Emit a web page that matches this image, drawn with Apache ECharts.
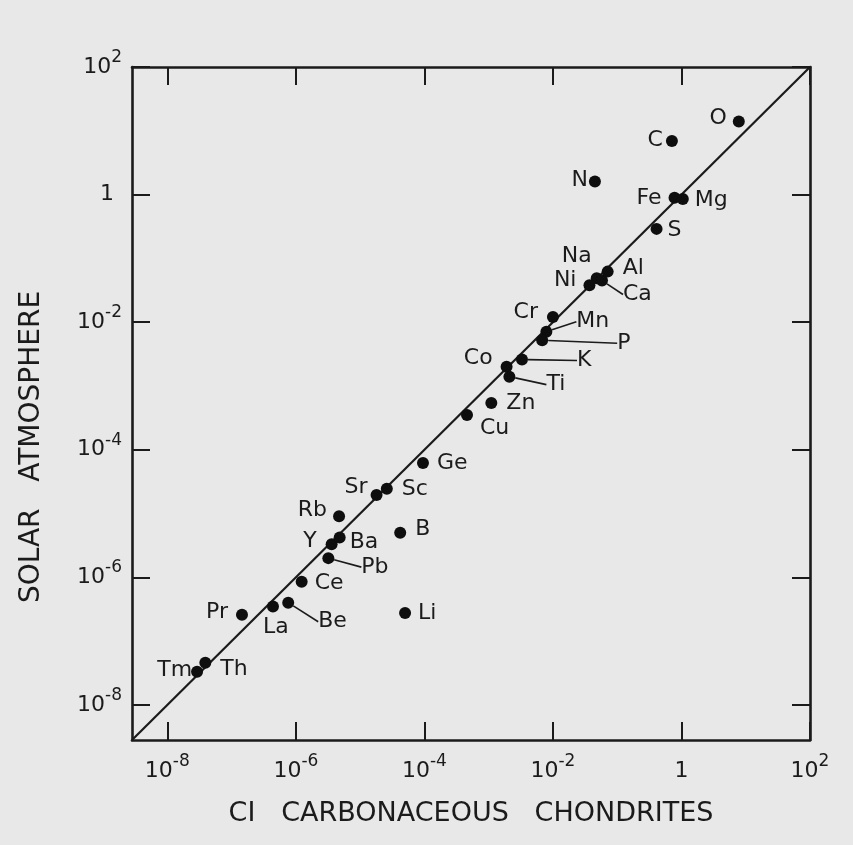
<!DOCTYPE html>
<html>
<head>
<meta charset="utf-8">
<script src="https://cdn.jsdelivr.net/npm/echarts@6/dist/echarts.min.js"></script>
<style>
html,body{margin:0;padding:0;background:#e8e8e8;}
#c{width:853px;height:845px;}
</style>
</head>
<body>
<div id="c"></div>
<script>
// ---- data (abundances relative to Si) ----
const elements = ['O','C','N','Fe','Mg','S','Na','Ni','Ca','Al','Cr','Mn','P','K','Co','Ti','Zn','Cu','Ge','Sr','Sc','Rb','B','Y','Ba','Pb','Ce','Li','Be','La','Pr','Tm','Th'];
const ciValues = [7.8, 0.71, 0.045, 0.78, 1.05, 0.41, 0.048, 0.037, 0.058, 0.071, 0.010, 0.0079, 0.0068, 0.0033, 0.0019, 0.0021, 0.0011, 4.6e-4, 9.5e-5, 1.8e-5, 2.6e-5, 4.7e-6, 4.2e-5, 3.6e-6, 4.8e-6, 3.2e-6, 1.23e-6, 5.0e-5, 7.6e-7, 4.4e-7, 1.45e-7, 2.9e-8, 3.9e-8];
const solarValues = [14, 6.9, 1.6, 0.89, 0.85, 0.29, 0.049, 0.038, 0.045, 0.062, 0.012, 0.0071, 0.0052, 0.0026, 0.0020, 0.0014, 5.4e-4, 3.5e-4, 6.2e-5, 1.95e-5, 2.45e-5, 9.1e-6, 5.0e-6, 3.3e-6, 4.2e-6, 2.0e-6, 8.5e-7, 2.75e-7, 4.0e-7, 3.5e-7, 2.6e-7, 3.3e-8, 4.6e-8];
const tickValues = [1e-8, 1e-6, 1e-4, 1e-2, 1, 100];
const axisMin = Math.pow(10, -8.55);
const axisMax = 100;
const xTitle = 'CI   CARBONACEOUS   CHONDRITES';
const yTitle = 'SOLAR   ATMOSPHERE';

// ---- label placement (styling): [dx, dy, align, leader] relative to dot centre ----
const labelPlacement = {
  O:[-12,-3,'right'], C:[-9,-1,'right'], N:[-7,-1,'right'], Fe:[-13,0,'right'], Mg:[12,1,'left'],
  S:[11,1,'left'], Na:[-5,-22,'right'], Ni:[-13,-5,'right'], Ca:[21,14,'left',true], Al:[15,-3,'left'],
  Cr:[-15,-5,'right'], Mn:[30,-10,'left',true], P:[75,3,'left',true], K:[55,1,'left',true],
  Co:[-14,-8,'right'], Ti:[37,8,'left',true], Zn:[15,0,'left'], Cu:[13,13,'left'], Ge:[14,0,'left'],
  Sr:[-9,-8,'right'], Sc:[15,1,'left'], Rb:[-12,-6,'right'], B:[15,-3,'left'], Y:[-15,-3,'right'],
  Ba:[10,5,'left'], Pb:[33,9,'left',true], Ce:[13,1,'left'], Li:[13,0,'left'], Be:[30,19,'left',true],
  La:[-10,21,'left'], Pr:[-14,-2,'right'], Tm:[-5,-2,'right'], Th:[15,7,'left']
};

const ink = '#1b1b1b';
const font = 'DejaVu Sans';

const points = elements.map((name, i) => {
  const item = { name: name, value: [ciValues[i], solarValues[i]] };
  if (labelPlacement[name] && labelPlacement[name][3]) {
    item.labelLine = { show: true, lineStyle: { color: ink, width: 1.6, opacity: 1 } };
  }
  return item;
});

function expLabel(v) {
  const e = Math.round(Math.log10(v));
  return e === 0 ? '{one|1}' : '{b|10}{s|' + e + '}';
}
const richX = {
  b: { fontFamily: font, fontSize: 22, color: ink, lineHeight: 36 },
  s: { fontFamily: font, fontSize: 17, color: ink, lineHeight: 17, verticalAlign: 'top' },
  one: { fontFamily: font, fontSize: 22, color: ink, lineHeight: 36 }
};
const richY = {
  b: richX.b, s: richX.s,
  one: { fontFamily: font, fontSize: 22, color: ink, lineHeight: 36, padding: [0, 8, 0, 0] }
};

const axisCommon = {
  type: 'log', logBase: 10, min: axisMin, max: axisMax,
  axisLine: { show: true, onZero: false, lineStyle: { color: ink, width: 2.6 } },
  axisTick: { show: true, inside: true, length: 18, customValues: tickValues, lineStyle: { color: ink, width: 2 } },
  splitLine: { show: false },
  minorTick: { show: false }
};

const chart = echarts.init(document.getElementById('c'), null, { renderer: 'canvas' });
chart.setOption({
  backgroundColor: '#e8e8e8',
  animation: false,
  grid: { left: 132, right: 43, top: 67, bottom: 105 },
  xAxis: [
    Object.assign({}, axisCommon, {
      position: 'bottom',
      name: xTitle, nameLocation: 'middle', nameGap: 60,
      nameTextStyle: { fontFamily: font, fontSize: 27, color: ink },
      axisLabel: { show: true, customValues: tickValues, margin: 13, formatter: expLabel, rich: richX }
    }),
    Object.assign({}, axisCommon, { position: 'top', axisLabel: { show: false } })
  ],
  yAxis: [
    Object.assign({}, axisCommon, {
      position: 'left',
      axisLabel: { show: true, customValues: tickValues, margin: 10, formatter: expLabel, rich: richY }
    }),
    Object.assign({}, axisCommon, { position: 'right', axisLabel: { show: false } })
  ],
  graphic: [
    { type: 'text', x: 32, y: 447, rotation: Math.PI / 2,
      style: { text: yTitle, fontFamily: font, fontSize: 28, fill: ink, align: 'center', verticalAlign: 'middle' } }
  ],
  series: [
    {
      type: 'line', xAxisIndex: 0, yAxisIndex: 0,
      data: [[axisMin, axisMin], [axisMax, axisMax]],
      symbol: 'none', silent: true,
      lineStyle: { color: ink, width: 2.2 }, z: 1
    },
    {
      type: 'scatter', xAxisIndex: 0, yAxisIndex: 0,
      data: points,
      symbol: 'circle', symbolSize: 12,
      itemStyle: { color: '#0e0e0e', opacity: 1 },
      z: 3,
      label: {
        show: true, formatter: '{b}', position: 'right',
        fontFamily: font, fontSize: 22, color: ink, opacity: 1
      },
      labelLine: { show: false },
      labelLayout: function (p) {
        const name = elements[p.dataIndex];
        const pl = labelPlacement[name] || [12, 0, 'left'];
        const cx = p.rect.x + p.rect.width / 2;
        const cy = p.rect.y + p.rect.height / 2;
        return { x: cx + pl[0], y: cy + pl[1], align: pl[2], verticalAlign: 'middle' };
      }
    }
  ]
});
</script>
</body>
</html>
